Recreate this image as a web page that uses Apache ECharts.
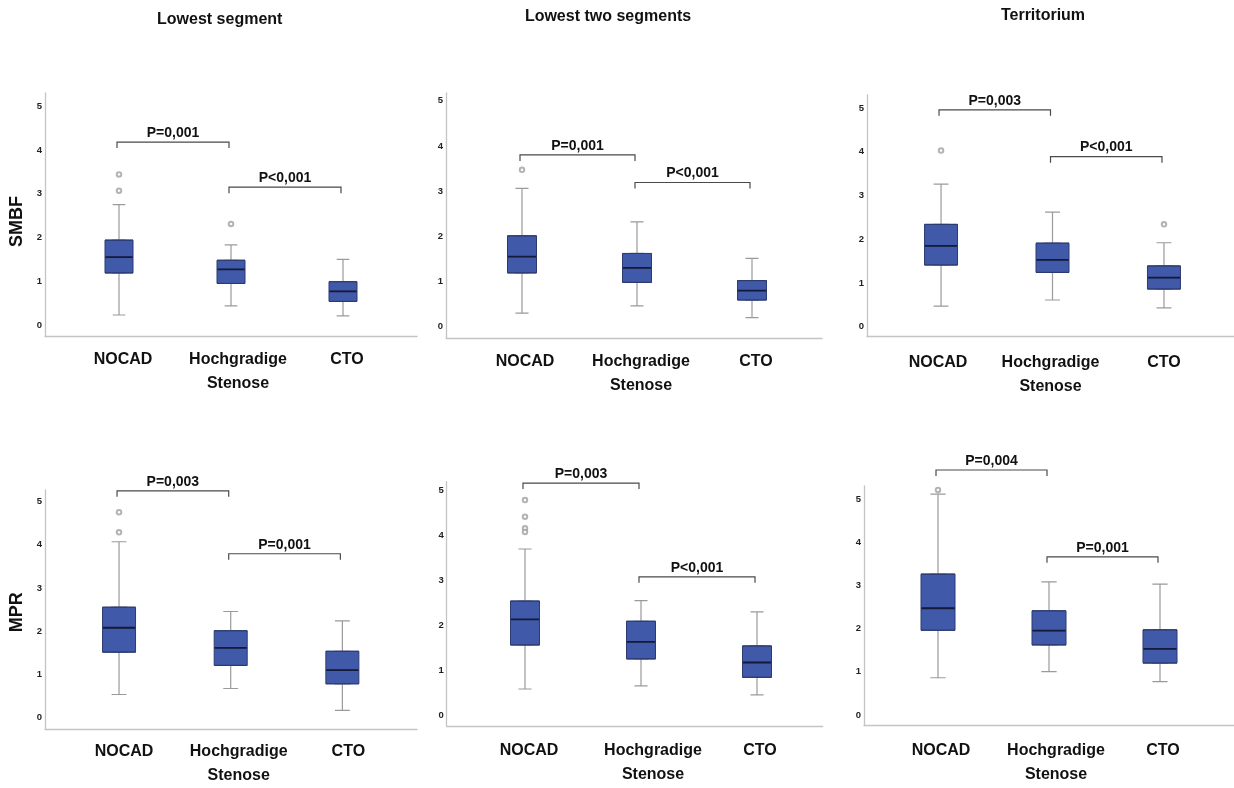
<!DOCTYPE html>
<html><head><meta charset="utf-8">
<script src="https://cdn.jsdelivr.net/npm/echarts@6/dist/echarts.min.js"></script>
<style>html,body{margin:0;padding:0;background:#fff}#c{width:1234px;height:788px}</style>
</head><body><div id="c"></div>
<script>
// ---------- data ----------
const categories = ['NOCAD', 'Hochgradige\nStenose', 'CTO'];
const columnTitles = ['Lowest segment', 'Lowest two segments', 'Territorium'];
const rowNames = ['SMBF', 'MPR'];
const yTickLabels = [0, 1, 2, 3, 4, 5];

// box values per category: [min, Q1, median, Q3, max]
const smbfLowestSegment   = [[0.23, 1.19, 1.55, 1.94, 2.75], [0.44, 0.95, 1.27, 1.48, 1.83], [0.21, 0.54, 0.77, 0.99, 1.50]];
const smbfLowestTwo       = [[0.30, 1.19, 1.55, 2.01, 3.06], [0.46, 0.98, 1.30, 1.62, 2.32], [0.20, 0.59, 0.80, 1.02, 1.51]];
const smbfTerritorium     = [[0.47, 1.41, 1.85, 2.34, 3.26], [0.61, 1.24, 1.53, 1.91, 2.62], [0.43, 0.86, 1.12, 1.39, 1.92]];
const mprLowestSegment    = [[0.49, 1.48, 2.05, 2.53, 4.06], [0.63, 1.17, 1.58, 1.98, 2.43], [0.12, 0.74, 1.06, 1.50, 2.21]];
const mprLowestTwo        = [[0.58, 1.56, 2.13, 2.54, 3.70], [0.65, 1.25, 1.63, 2.09, 2.55], [0.45, 0.84, 1.17, 1.54, 2.30]];
const mprTerritorium      = [[0.86, 1.96, 2.47, 3.26, 5.11], [1.00, 1.62, 1.95, 2.41, 3.08], [0.77, 1.20, 1.53, 1.97, 3.03]];

// outliers: [categoryIndex, value]
const smbfLowestSegmentOut = [[0, 3.44], [0, 3.07], [1, 2.31]];
const smbfLowestTwoOut     = [[0, 3.47]];
const smbfTerritoriumOut   = [[0, 4.03], [2, 2.34]];
const mprLowestSegmentOut  = [[0, 4.75], [0, 4.28]];
const mprLowestTwoOut      = [[0, 4.79], [0, 4.42], [0, 4.16], [0, 4.08]];
const mprTerritoriumOut    = [[0, 5.21]];

// significance brackets: [fromCategory, toCategory, value level]
const smbfLowestSegmentP = [[0, 1, 4.18], [1, 2, 3.15]];
const smbfLowestTwoP     = [[0, 1, 3.80], [1, 2, 3.19]];
const smbfTerritoriumP   = [[0, 1, 4.96], [1, 2, 3.89]];
const mprLowestSegmentP  = [[0, 1, 5.25], [1, 2, 3.78]];
const mprLowestTwoP      = [[0, 1, 5.17], [1, 2, 3.08]];
const mprTerritoriumP    = [[0, 1, 5.67], [1, 2, 3.66]];

const smbfLowestSegmentPLabels = ['P=0,001', 'P<0,001'];
const smbfLowestTwoPLabels     = ['P=0,001', 'P<0,001'];
const smbfTerritoriumPLabels   = ['P=0,003', 'P<0,001'];
const mprLowestSegmentPLabels  = ['P=0,003', 'P=0,001'];
const mprLowestTwoPLabels      = ['P=0,003', 'P<0,001'];
const mprTerritoriumPLabels    = ['P=0,004', 'P=0,001'];

// y axis ranges per panel
const yRanges = [[-0.25, 5.30], [-0.25, 5.17], [-0.23, 5.30], [-0.27, 5.27], [-0.245, 5.20], [-0.25, 5.30]];

// ---------- layout & style ----------
const layout = [
  {axisX: 45,    right: 417,   top: 93,    bottom: 336,   dataL: 63,    dataR: 399,    boxW: 28, shift: [4, 7, 4],  margin: 12, namePad: 14},
  {axisX: 446,   right: 822,   top: 93,    bottom: 338,   dataL: 464.5, dataR: 809.5,  boxW: 29, shift: [3, 4, 4],  margin: 12},
  {axisX: 867,   right: 1234,  top: 95,    bottom: 336.7, dataL: 885.3, dataR: 1219.7, boxW: 33, shift: [-3, -2, 0], margin: 14},
  {axisX: 45,    right: 417,   top: 490,   bottom: 729.3, dataL: 63.2,  dataR: 398.2,  boxW: 33, shift: [5, 8, 6],  margin: 13, namePad: 5},
  {axisX: 446.7, right: 822.7, top: 481.7, bottom: 726,   dataL: 467,   dataR: 815,    boxW: 29, shift: [4, 12, 3], margin: 13},
  {axisX: 864,   right: 1234,  top: 486,   bottom: 725.7, dataL: 882.5, dataR: 1215.5, boxW: 34, shift: [3, 7, 3],  margin: 13}
];
const titlePos = [[219.7, 19.5], [608, 16.5], [1043, 16]];

const SANS = '"Liberation Sans", Arial, sans-serif';
const AXIS = '#c4c4c4';
const BOX_FILL = '#4059a8';
const BOX_BORDER = '#2c3a70';
const MEDIAN = '#141b3a';
const WHISKER = '#9a9a9a';
const TEXT = '#111';

const panels = [
  {box: smbfLowestSegment, out: smbfLowestSegmentOut, br: smbfLowestSegmentP, brLabels: smbfLowestSegmentPLabels},
  {box: smbfLowestTwo,     out: smbfLowestTwoOut,     br: smbfLowestTwoP,     brLabels: smbfLowestTwoPLabels},
  {box: smbfTerritorium,   out: smbfTerritoriumOut,   br: smbfTerritoriumP,   brLabels: smbfTerritoriumPLabels},
  {box: mprLowestSegment,  out: mprLowestSegmentOut,  br: mprLowestSegmentP,  brLabels: mprLowestSegmentPLabels},
  {box: mprLowestTwo,      out: mprLowestTwoOut,      br: mprLowestTwoP,      brLabels: mprLowestTwoPLabels},
  {box: mprTerritorium,    out: mprTerritoriumOut,    br: mprTerritoriumP,    brLabels: mprTerritoriumPLabels}
];

const grid = [], xAxis = [], yAxis = [], series = [];

panels.forEach(function (p, i) {
  const L = layout[i];
  const row = Math.floor(i / 3);
  const yr = yRanges[i];
  const h = L.bottom - L.top;

  const gW = grid.length;
  grid.push({left: L.axisX, top: L.top, width: L.right - L.axisX, height: h});
  const gD = grid.length;
  grid.push({left: L.dataL, top: L.top, width: L.dataR - L.dataL, height: h});

  // frame axes (wide grid)
  xAxis.push({type: 'value', gridIndex: gW, min: 0, max: 1,
    axisLine: {show: true, onZero: false, lineStyle: {color: AXIS, width: 1.3}},
    axisTick: {show: false}, axisLabel: {show: false}, splitLine: {show: false}});
  const isFirstCol = i % 3 === 0;
  yAxis.push({type: 'value', gridIndex: gW, min: yr[0], max: yr[1],
    axisLine: {show: true, onZero: false, lineStyle: {color: AXIS, width: 1.3}},
    axisTick: {show: false}, splitLine: {show: false},
    axisLabel: {customValues: yTickLabels, margin: 3, fontSize: 9.5, fontWeight: 'bold', fontFamily: SANS, color: '#222'},
    name: isFirstCol ? rowNames[row] : '', nameLocation: 'middle', nameRotate: 90, nameGap: 19,
    nameTextStyle: {fontSize: 18, fontWeight: 'bold', fontFamily: SANS, color: TEXT, padding: [0, L.namePad || 0, 0, 0]}});

  // data axes
  const xL = xAxis.length;
  xAxis.push({type: 'category', gridIndex: gD,
    data: categories.map(function (c, k) {
      const s = L.shift[k];
      return {value: c, textStyle: {padding: s >= 0 ? [0, 0, 0, 2 * s] : [0, -2 * s, 0, 0]}};
    }),
    axisLine: {show: false}, axisTick: {show: false}, splitLine: {show: false},
    axisLabel: {interval: 0, margin: L.margin, fontSize: 16, lineHeight: 24, fontWeight: 'bold', fontFamily: SANS, color: TEXT}});
  const xH1 = xAxis.length;
  xAxis.push({type: 'category', gridIndex: gD, data: categories, show: false});
  const xH2 = xAxis.length;
  xAxis.push({type: 'category', gridIndex: gD, data: categories, show: false});
  const yD = yAxis.length;
  yAxis.push({type: 'value', gridIndex: gD, min: yr[0], max: yr[1], show: false});

  // whiskers (narrow caps, grey)
  series.push({type: 'boxplot', xAxisIndex: xH1, yAxisIndex: yD, data: p.box,
    boxWidth: [L.boxW * 0.45, L.boxW * 0.45], silent: true,
    itemStyle: {color: 'rgba(0,0,0,0)', borderColor: WHISKER, borderWidth: 1.2},
    emphasis: {disabled: true}, z: 2});
  // boxes (Q1..Q3)
  series.push({type: 'boxplot', xAxisIndex: xL, yAxisIndex: yD,
    data: p.box.map(function (b) { return [b[1], b[1], b[2], b[3], b[3]]; }),
    boxWidth: [L.boxW, L.boxW], silent: true,
    itemStyle: {color: BOX_FILL, borderColor: BOX_BORDER, borderWidth: 1},
    emphasis: {disabled: true}, z: 3});
  // medians
  series.push({type: 'boxplot', xAxisIndex: xH2, yAxisIndex: yD,
    data: p.box.map(function (b) { return [b[2], b[2], b[2], b[2], b[2]]; }),
    boxWidth: [L.boxW - 1, L.boxW - 1], silent: true,
    itemStyle: {color: MEDIAN, borderColor: MEDIAN, borderWidth: 1.8},
    emphasis: {disabled: true}, z: 4});
  // outliers
  series.push({type: 'scatter', xAxisIndex: xL, yAxisIndex: yD, data: p.out,
    symbol: 'emptyCircle', symbolSize: 4.5, silent: true,
    itemStyle: {color: '#a0a0a0', borderWidth: 0.9}, z: 5});
  // significance brackets
  const labels = p.brLabels;
  series.push({type: 'custom', xAxisIndex: xL, yAxisIndex: yD, data: p.br, clip: false, silent: true, z: 6,
    renderItem: function (params, api) {
      const a = api.coord([api.value(0), api.value(2)]);
      const b = api.coord([api.value(1), api.value(2)]);
      const x1 = a[0] - 2, x2 = b[0] - 2, y = a[1];
      return {type: 'group', children: [
        {type: 'polyline', shape: {points: [[x1, y + 6], [x1, y], [x2, y], [x2, y + 6]]},
          style: {stroke: '#4a4a4a', lineWidth: 1.2, fill: null}},
        {type: 'text', style: {text: labels[params.dataIndex], x: (x1 + x2) / 2, y: y - 9,
          align: 'center', verticalAlign: 'middle', fill: TEXT,
          font: 'bold 14px ' + SANS}}
      ]};
    }});
});

const title = columnTitles.map(function (t, k) {
  return {text: t, left: titlePos[k][0], top: titlePos[k][1], textAlign: 'center', textVerticalAlign: 'middle', padding: 0,
    textStyle: {fontSize: 16, fontWeight: 'bold', fontFamily: SANS, color: TEXT}};
});

const chart = echarts.init(document.getElementById('c'), null, {renderer: 'canvas'});
chart.setOption({animation: false, backgroundColor: '#fff', title: title, grid: grid, xAxis: xAxis, yAxis: yAxis, series: series});
</script>
</body></html>
